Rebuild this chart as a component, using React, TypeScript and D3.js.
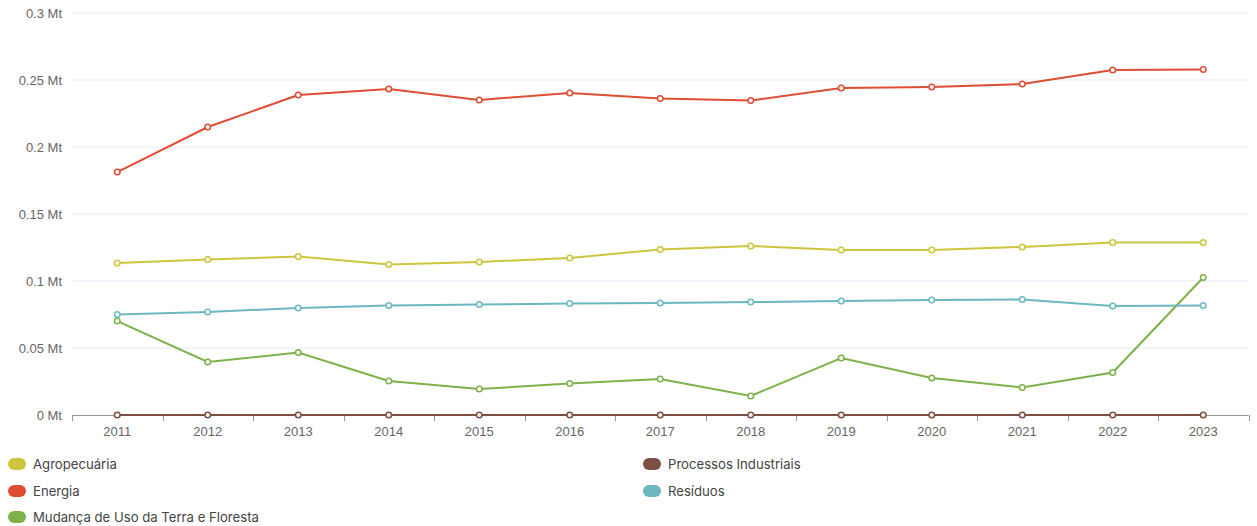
import React from "react";
import * as d3 from "d3";

const years = ["2011","2012","2013","2014","2015","2016","2017","2018","2019","2020","2021","2022","2023"];
const agropecuaria = [0.1134,0.1160,0.1183,0.1123,0.1142,0.1172,0.1235,0.1261,0.1231,0.1231,0.1254,0.1287,0.1287];
const energia = [0.1813,0.2149,0.2388,0.2433,0.2351,0.2403,0.2362,0.2347,0.2440,0.2448,0.2470,0.2575,0.2578];
const mudanca = [0.0701,0.0396,0.0466,0.0254,0.0194,0.0235,0.0269,0.0142,0.0425,0.0276,0.0205,0.0317,0.1026];
const processos = [0,0,0,0,0,0,0,0,0,0,0,0,0];
const residuos = [0.0750,0.0769,0.0799,0.0817,0.0825,0.0832,0.0836,0.0843,0.0851,0.0858,0.0862,0.0813,0.0817];
const yTicks = [0, 0.05, 0.1, 0.15, 0.2, 0.25, 0.3];

const series = [
  { name: "Agropecuária", values: agropecuaria, color: "#cdc53b" },
  { name: "Energia", values: energia, color: "#df4d33" },
  { name: "Mudança de Uso da Terra e Floresta", values: mudanca, color: "#7db24a" },
  { name: "Processos Industriais", values: processos, color: "#7b4f42" },
  { name: "Resíduos", values: residuos, color: "#6cb8c1" },
];
const drawOrder = [3, 2, 4, 0, 1];

export default function App() {
  const W = 1257, H = 526;
  const left = 72, right = 1248.5, top = 13, bottom = 415;
  const x = d3.scaleBand<string>().domain(years).range([left, right]);
  const y = d3.scaleLinear().domain([0, 0.3]).range([bottom, top]);
  const line = d3.line<number>().x((_, i) => (x(years[i]) as number) + x.bandwidth() / 2).y((d) => y(d));
  const axisFont = "'Liberation Sans', Arial, sans-serif";
  const legendFont = "Inter, 'Noto Sans', sans-serif";
  const legendPos = [
    { x: 8, y: 464 }, { x: 8, y: 491 }, { x: 8, y: 517 },
    { x: 643, y: 464 }, { x: 643, y: 491 },
  ];
  const bounds = years.map((yr) => x(yr) as number).concat([right]);
  return (
    <svg width={W} height={H} style={{ position: "absolute", left: 0, top: 0 }}>
      <rect width={W} height={H} fill="#fff" />
      {yTicks.map((t) => (
        <g key={t}>
          {t > 0 && <line x1={left} x2={right} y1={y(t)} y2={y(t)} stroke="#e4e9f2" strokeWidth={1} />}
          <text x={62} y={y(t)} dy="0.35em" textAnchor="end" fontSize={13} fill="#666" fontFamily={axisFont}>{`${t} Mt`}</text>
        </g>
      ))}
      <line x1={left} x2={right} y1={bottom + 0.5} y2={bottom + 0.5} stroke="#999" strokeWidth={1} />
      {bounds.map((b, i) => (
        <line key={i} x1={Math.round(b) + 0.5} x2={Math.round(b) + 0.5} y1={bottom} y2={bottom + 6} stroke="#999" strokeWidth={1} />
      ))}
      {years.map((yr) => (
        <text key={yr} x={(x(yr) as number) + x.bandwidth() / 2} y={431} dy="0.35em" textAnchor="middle" fontSize={13} fill="#666" fontFamily={axisFont}>{yr}</text>
      ))}
      {drawOrder.map((si) => {
        const s = series[si];
        return (
          <g key={s.name}>
            <path d={line(s.values) as string} fill="none" stroke={s.color} strokeWidth={2} />
            {s.values.map((v, i) => (
              <circle key={i} cx={(x(years[i]) as number) + x.bandwidth() / 2} cy={y(v)} r={2.8} fill="#fff" stroke={s.color} strokeWidth={1.5} />
            ))}
          </g>
        );
      })}
      {series.map((s, i) => (
        <g key={s.name}>
          <rect x={legendPos[i].x} y={legendPos[i].y - 6} width={18} height={12} rx={6} fill={s.color} />
          <text x={legendPos[i].x + 25} y={legendPos[i].y} dy="0.35em" fontSize={13.15} fill="#444" fontFamily={legendFont}>{s.name}</text>
        </g>
      ))}
    </svg>
  );
}
